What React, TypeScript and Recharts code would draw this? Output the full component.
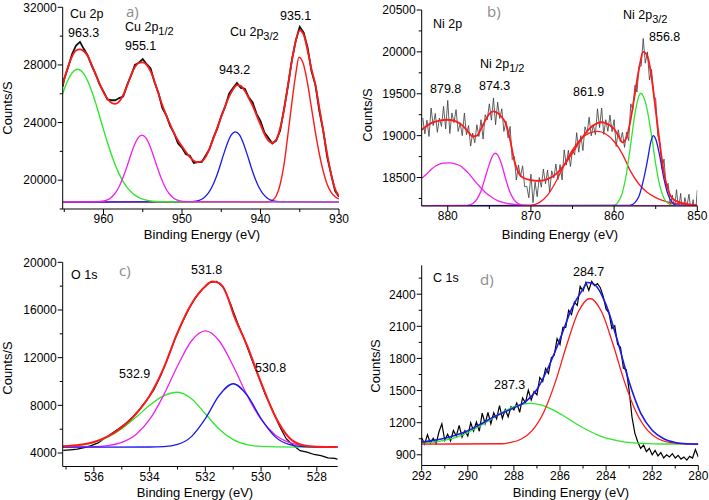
import React from "react";
import { LineChart, Line, XAxis, YAxis } from "recharts";

type P = [number, number];

// ---------- a) Cu 2p ----------
const aXTicks = [930, 935, 940, 945, 950, 955, 960, 965];
const aXMajor = [930, 940, 950, 960];
const aYTicks = [18000, 20000, 22000, 24000, 26000, 28000, 30000, 32000];
const aYMajor = [20000, 24000, 28000, 32000];

const aRaw: P[] = [
  [965.2, 26500], [965, 27050], [964.5, 27850], [964, 28750], [963.5, 29350], [963, 29600],
  [962.5, 29100], [962, 28650], [961.5, 27950], [961, 27350], [960.5, 26650], [960, 26150],
  [959.5, 25600], [959, 25550], [958.5, 25550], [958, 25700], [957.5, 25800], [957, 26600],
  [956.5, 27250], [956, 28000], [955.5, 28150], [955, 28400], [954.5, 28050], [954, 27750],
  [953.5, 26800], [953, 26050], [952.5, 25000], [952, 24500], [951.5, 23750], [951, 23250],
  [950.5, 22550], [950, 22250], [949.5, 21800], [949, 21700], [948.5, 21200], [948, 21250],
  [947.5, 21250], [947, 21700], [946.5, 22150], [946, 22950], [945.5, 23600], [945, 24450],
  [944.5, 25100], [944, 26000], [943.5, 26400], [943, 26750], [942.5, 26400], [942, 26350],
  [941.5, 25750], [941, 25400], [940.5, 24600], [940, 24100], [939.5, 23300], [939, 22950],
  [938.5, 22550], [938, 22750], [937.5, 23450], [937, 24950], [936.5, 26550], [936, 28350],
  [935.5, 29700], [935, 30650], [934.5, 30250], [934, 29200], [933.5, 27550], [933, 26600],
  [932.5, 24800], [932, 23400], [931.5, 21600], [931, 20400], [930.5, 19250], [930, 18850],
];
const aFit: P[] = [
  [965.2, 26600], [965, 27000], [964.5, 27900], [964, 28600], [963.5, 29000], [963, 29080],
  [962.5, 28950], [962, 28600], [961.5, 28000], [961, 27350], [960.5, 26700], [960, 26100],
  [959.5, 25650], [959, 25380], [958.5, 25300], [958, 25450], [957.5, 25900], [957, 26550],
  [956.5, 27300], [956, 27850], [955.5, 28150], [955, 28180], [954.5, 28000], [954, 27550],
  [953.5, 26850], [953, 26000], [952.5, 25200], [952, 24500], [951.5, 23850], [951, 23250],
  [950.5, 22750], [950, 22350], [949.5, 21950], [949, 21600], [948.5, 21350], [948, 21250],
  [947.5, 21300], [947, 21600], [946.5, 22200], [946, 22900], [945.5, 23650], [945, 24400],
  [944.5, 25150], [944, 25800], [943.5, 26300], [943, 26600], [942.5, 26550], [942, 26200],
  [941.5, 25700], [941, 25150], [940.5, 24500], [940, 23850], [939.5, 23200], [939, 22750],
  [938.5, 22600], [938, 22800], [937.5, 23600], [937, 24900], [936.5, 26600], [936, 28300],
  [935.5, 29700], [935, 30400], [934.5, 30100], [934, 29000], [933.5, 27700], [933, 26600],
  [932.5, 25000], [932, 23400], [931.5, 21800], [931, 20400], [930.5, 19400], [930, 18900],
];
const aGreen: P[] = [
  [965.2, 26020], [964.6, 26870], [964, 27450], [963.3, 27700], [962.6, 27450], [962, 26870],
  [961.5, 26180], [961, 25350], [960.5, 24440], [960, 23510], [959.5, 22610], [959, 21780],
  [958.5, 21040], [958, 20420], [957.5, 19900], [957, 19500], [956.5, 19190], [956, 18960],
  [955.5, 18790], [955, 18680], [954, 18555], [953, 18505], [930, 18480],
];
const aMagenta: P[] = [
  [965.2, 18480], [960.6, 18505], [960.1, 18540], [959.6, 18620], [959.1, 18770], [958.6, 19040],
  [958.1, 19460], [957.6, 20060], [957.1, 20805], [956.6, 21630], [956.1, 22390], [955.6, 22935],
  [955.1, 23130], [954.6, 22935], [954.1, 22390], [953.6, 21630], [953.1, 20805], [952.6, 20060],
  [952.1, 19460], [951.6, 19040], [951.1, 18770], [950.6, 18620], [950.1, 18540], [949.6, 18505],
  [930, 18480],
];
const aBlue: P[] = [
  [965.2, 18480], [948.7, 18510], [948.2, 18543], [947.7, 18626], [947.2, 18787], [946.7, 19066],
  [946.2, 19510], [945.7, 20135], [945.2, 20920], [944.7, 21790], [944.2, 22585], [943.7, 23155],
  [943.2, 23360], [942.7, 23155], [942.2, 22585], [941.7, 21790], [941.2, 20920], [940.7, 20135],
  [940.2, 19510], [939.7, 19066], [939.2, 18787], [938.7, 18626], [938.2, 18543], [937.7, 18510],
  [930, 18480],
];
const aRed: P[] = [
  [965.2, 18480], [939.5, 18485], [939, 18500], [938.5, 18600], [938, 18900], [937.5, 19700],
  [937, 21100], [936.5, 23200], [936, 25400], [935.5, 27400], [935.1, 28530], [934.5, 28000],
  [934, 26700], [933.5, 25000], [933, 23300], [932.5, 21800], [932, 20600], [931.5, 19700],
  [931, 19150], [930.5, 18850], [930, 18700],
];

// ---------- b) Ni 2p ----------
const bXTicks = [850, 855, 860, 865, 870, 875, 880];
const bXMajor = [850, 860, 870, 880];
const bYTicks = [18250, 18500, 18750, 19000, 19250, 19500, 19750, 20000, 20250, 20500];
const bYMajor = [18500, 19000, 19500, 20000, 20500];

const bRaw: P[] = [
  [883, 19210], [882.75, 19020], [882.5, 19185], [882.25, 18990], [882, 19330], [881.75, 19120],
  [881.5, 19265], [881.25, 19040], [881, 19210], [880.75, 19110], [880.5, 19350], [880.25, 19080],
  [880, 19420], [879.75, 19025], [879.5, 19270], [879.25, 19155], [879, 19310], [878.75, 19050],
  [878.5, 19145], [878.25, 19000], [878, 19270], [877.75, 19010], [877.5, 19120], [877.25, 18875],
  [877, 19030], [876.75, 18915], [876.5, 19130], [876.25, 18990], [876, 19190], [875.75, 18960],
  [875.5, 19250], [875.25, 19190], [875, 19380], [874.75, 19185], [874.5, 19450], [874.25, 19130],
  [874, 19400], [873.75, 19205], [873.5, 19320], [873.25, 19050], [873, 19170], [872.75, 18975],
  [872.5, 19110], [872.25, 18715], [872, 18750], [871.75, 18470], [871.5, 18650], [871.25, 18510],
  [871, 18640], [870.75, 18390], [870.5, 18395], [870.25, 18258], [870, 18540], [869.75, 18200],
  [869.5, 18445], [869.25, 18272], [869, 18500], [868.75, 18385], [868.5, 18600], [868.25, 18425],
  [868, 18590], [867.75, 18325], [867.5, 18580], [867.25, 18495], [867, 18660], [866.75, 18477],
  [866.5, 18655], [866.25, 18472], [866, 18830], [865.75, 18648], [865.5, 18825], [865.25, 18632],
  [865, 18830], [864.75, 18768], [864.5, 19035], [864.25, 18802], [864, 19000], [863.75, 18822],
  [863.5, 19105], [863.25, 19028], [863, 19220], [862.75, 18998], [862.5, 19125], [862.25, 19012],
  [862, 19320], [861.75, 19095], [861.5, 19330], [861.25, 19015], [861, 19190], [860.75, 19052],
  [860.5, 19245], [860.25, 19047], [860, 19190], [859.75, 18870], [859.5, 19070], [859.25, 18930],
  [859, 19040], [858.75, 18860], [858.5, 19040], [858.25, 18940], [858, 19380], [857.75, 19310],
  [857.5, 19600], [857.25, 19520], [857, 19830], [856.75, 19830], [856.5, 20160], [856.25, 19865],
  [856, 20000], [855.75, 19665], [855.5, 19790], [855.25, 19480], [855, 19440], [854.75, 19000],
  [854.5, 18910], [854.25, 18605], [854, 18720], [853.75, 18390], [853.5, 18430], [853.25, 18160],
  [853, 18290], [852.75, 18120], [852.5, 18355], [852.25, 18120], [852, 18310], [851.75, 18025],
  [851.5, 18260], [851.25, 18155], [851, 18300], [850.75, 18087], [850.5, 18235], [850.25, 18022],
  [850, 18350],
];
const bFit: P[] = [
  [883.13, 19070], [882, 19150], [881, 19180], [880, 19190], [879, 19170], [878, 19100],
  [877.5, 19040], [877, 18990], [876.5, 19000], [876, 19080], [875.5, 19180], [875, 19260],
  [874.5, 19290], [874, 19270], [873.5, 19220], [873, 19140], [872.5, 18950], [872, 18700],
  [871.5, 18560], [871, 18500], [870, 18470], [869, 18460], [868, 18480], [867, 18540],
  [866, 18650], [865, 18800], [864, 18950], [863, 19080], [862, 19150], [861.5, 19160],
  [861, 19150], [860, 19080], [859.5, 19000], [859, 18920], [858.5, 18980], [858, 19200],
  [857.5, 19500], [857, 19800], [856.5, 20000], [856, 19950], [855.5, 19700], [855, 19300],
  [854.5, 18900], [854, 18550], [853.5, 18350], [853, 18250], [852, 18200], [851, 18180],
  [850, 18170],
];
const bMag1: P[] = [
  [883.13, 18490], [882.5, 18545], [882, 18595], [881.5, 18635], [881, 18660], [880.5, 18672],
  [879.8, 18675], [879, 18660], [878.5, 18640], [878, 18600], [877.5, 18550], [877, 18490],
  [876.5, 18430], [876, 18375], [875.5, 18325], [875, 18285], [874.5, 18250], [874, 18225],
  [873, 18195], [872, 18178], [871, 18170], [870, 18165], [850, 18165],
];
const bMag2: P[] = [
  [883.13, 18165], [878, 18166], [877.5, 18170], [877, 18190], [876.5, 18240], [876, 18340],
  [875.5, 18500], [875, 18660], [874.6, 18760], [874.3, 18790], [874, 18770], [873.5, 18650],
  [873, 18470], [872.5, 18320], [872, 18230], [871.5, 18185], [871, 18170], [870.5, 18165],
  [850, 18165],
];
const bRed: P[] = [
  [883.13, 18165], [871, 18166], [870, 18170], [869, 18200], [868, 18290], [867, 18450],
  [866, 18650], [865, 18830], [864, 18960], [863, 19030], [862, 19050], [861, 19020],
  [860, 18930], [859, 18780], [858, 18570], [857, 18420], [856, 18320], [855, 18260],
  [854, 18220], [853, 18195], [852, 18185], [851, 18175], [850, 18170],
];
const bGreen: P[] = [
  [883.13, 18165], [860.5, 18166], [860, 18170], [859.5, 18210], [859, 18320], [858.5, 18560],
  [858, 18900], [857.5, 19260], [857, 19480], [856.8, 19506], [856.5, 19470], [856, 19300],
  [855.5, 19000], [855, 18660], [854.5, 18400], [854, 18250], [853.5, 18190], [853, 18170],
  [850, 18165],
];
const bBlue: P[] = [
  [883.13, 18165], [858.5, 18166], [858, 18170], [857.5, 18200], [857, 18280], [856.5, 18460],
  [856, 18700], [855.6, 18920], [855.3, 19000], [855, 18960], [854.5, 18750], [854, 18480],
  [853.5, 18290], [853, 18200], [852.5, 18170], [850, 18165],
];

// ---------- c) O 1s ----------
const cXTicks = [528, 529, 530, 531, 532, 533, 534, 535, 536, 537];
const cXMajor = [528, 530, 532, 534, 536];
const cYTicks = [4000, 6000, 8000, 10000, 12000, 14000, 16000, 18000, 20000];
const cYMajor = [4000, 8000, 12000, 16000, 20000];

const cRaw: P[] = [
  [537.1, 4220], [536.85, 4270], [536.6, 4330], [536.35, 4450], [536.1, 4620], [535.85, 4850],
  [535.6, 5250], [535.35, 5650], [535.1, 6050], [534.85, 6500], [534.6, 7050], [534.35, 7700],
  [534.1, 8450], [533.85, 9300], [533.6, 10500], [533.35, 11950], [533.1, 13500], [532.85, 14850],
  [532.6, 16050], [532.35, 17050], [532.1, 17750], [531.85, 18300], [531.6, 18400], [531.35, 17900],
  [531.1, 16550], [530.85, 14950], [530.6, 13550], [530.35, 11950], [530.1, 10450], [529.85, 8900],
  [529.6, 7650], [529.35, 6300], [529.1, 5200], [528.85, 4650], [528.6, 4200], [528.35, 4080],
  [528.1, 3880], [527.85, 3780], [527.6, 3600], [527.35, 3550], [527.25, 3470],
];
const cFit: P[] = [
  [537.12, 4560], [536.5, 4690], [536, 4930], [535.5, 5400], [535, 6150], [534.5, 7250],
  [534, 8800], [533.5, 11100], [533, 14100], [532.5, 16500], [532, 18000], [531.75, 18380],
  [531.5, 18250], [531.25, 17400], [531, 15700], [530.5, 13000], [530, 9900], [529.5, 7100],
  [529, 5300], [528.5, 4650], [528, 4520], [527.25, 4500],
];
const cGreen: P[] = [
  [537.12, 4545], [537, 4557], [536.5, 4660], [536, 4890], [535.5, 5328], [535, 6036],
  [534.5, 6980], [534, 8000], [533.5, 8795], [533, 9100], [532.5, 8557], [532, 7292],
  [531.5, 5995], [531, 5121], [530.5, 4702], [530, 4551], [529.5, 4510], [527.25, 4500],
];
const cMagenta: P[] = [
  [537.12, 4500], [536, 4530], [535.5, 4620], [535, 4885], [534.5, 5530], [534, 6815],
  [533.5, 8840], [533, 11300], [532.5, 13400], [532, 14240], [531.5, 13400], [531, 11300],
  [530.5, 8840], [530, 6815], [529.5, 5530], [529, 4885], [528.5, 4620], [528, 4530],
  [527.25, 4500],
];
const cBlue: P[] = [
  [537.12, 4500], [534, 4505], [533.5, 4536], [533, 4717], [532.5, 5377], [532, 6884],
  [531.5, 8845], [531, 9810], [530.5, 8845], [530, 6884], [529.5, 5377], [529, 4717],
  [528.5, 4536], [528, 4505], [527.25, 4500],
];

// ---------- d) C 1s ----------
const dXTicks = [280, 281, 282, 283, 284, 285, 286, 287, 288, 289, 290, 291, 292];
const dXMajor = [280, 282, 284, 286, 288, 290, 292];
const dYTicks = [900, 1050, 1200, 1350, 1500, 1650, 1800, 1950, 2100, 2250, 2400, 2550];
const dYMajor = [900, 1200, 1500, 1800, 2100, 2400];

const dRaw: P[] = [
  [292, 1060], [291.875, 1000], [291.75, 1088], [291.625, 1010], [291.5, 1055], [291.375, 1005],
  [291.25, 1115], [291.125, 1190], [291, 1035], [290.875, 1092], [290.75, 1030], [290.625, 1127],
  [290.5, 1075], [290.375, 1175], [290.25, 1065], [290.125, 1125], [290, 1075], [289.875, 1199],
  [289.75, 1122], [289.625, 1206], [289.5, 1120], [289.375, 1290], [289.25, 1190], [289.125, 1295],
  [289, 1190], [288.875, 1292], [288.75, 1235], [288.625, 1360], [288.5, 1240], [288.375, 1322],
  [288.25, 1255], [288.125, 1350], [288, 1320], [287.875, 1384], [287.75, 1297], [287.625, 1431],
  [287.5, 1385], [287.375, 1504], [287.25, 1412], [287.125, 1491], [287, 1460], [286.875, 1622],
  [286.75, 1585], [286.625, 1707], [286.5, 1660], [286.375, 1805], [286.25, 1830], [286.125, 1985],
  [286, 1930], [285.875, 2090], [285.75, 2090], [285.625, 2250], [285.5, 2210], [285.375, 2327],
  [285.25, 2295], [285.125, 2472], [285, 2430], [284.875, 2510], [284.75, 2435], [284.625, 2520],
  [284.5, 2480], [284.375, 2500], [284.25, 2460], [284.125, 2380], [284, 2260], [283.875, 2225],
  [283.75, 2080], [283.625, 2105], [283.5, 1930], [283.375, 1905], [283.25, 1710], [283.125, 1695],
  [283, 1500], [282.875, 1250], [282.75, 1100], [282.625, 1020], [282.5, 960], [282.375, 990],
  [282.25, 930], [282.125, 960], [282, 900], [281.875, 940], [281.75, 890], [281.625, 920],
  [281.5, 870], [281.375, 900], [281.25, 880], [281.125, 910], [281, 870], [280.875, 895],
  [280.75, 860], [280.625, 880], [280.5, 850], [280.375, 885], [280.25, 870], [280.125, 950],
  [280, 880],
];
const dFit: P[] = [
  [292, 1020], [291.5, 1035], [291, 1055], [290.5, 1085], [290, 1125], [289.5, 1180],
  [289, 1240], [288.5, 1290], [288, 1340], [287.5, 1395], [287, 1510], [286.5, 1720],
  [286, 1980], [285.5, 2260], [285, 2450], [284.8, 2510], [284.5, 2490], [284, 2300],
  [283.5, 1960], [283, 1580], [282.5, 1290], [282, 1130], [281.5, 1050], [281, 1015],
  [280.5, 1003], [280, 1000],
];
const dRed: P[] = [
  [292, 1000], [288.5, 1003], [288.2, 1013], [287.7, 1045], [287.2, 1128], [286.7, 1300],
  [286.2, 1581], [285.7, 1932], [285.2, 2238], [284.7, 2360], [284.2, 2238], [283.7, 1932],
  [283.2, 1581], [282.7, 1300], [282.2, 1128], [281.7, 1045], [281.2, 1013], [280.5, 1002],
  [280, 1000],
];
const dGreen: P[] = [
  [292, 1008], [291.3, 1024], [290.8, 1046], [290.3, 1080], [289.8, 1129], [289.3, 1190],
  [288.8, 1258], [288.3, 1320], [287.8, 1364], [287.3, 1380], [286.8, 1364], [286.3, 1320],
  [285.8, 1258], [285.3, 1190], [284.8, 1129], [284.3, 1080], [283.8, 1046], [283.3, 1024],
  [282.8, 1011], [282.3, 1005], [281.5, 1001], [280, 1000],
];

// ---------- drawing ----------
const FONT = '"Liberation Sans", Arial, Helvetica, sans-serif';
const RED = "#ff1a1a";
const GREEN = "#2ee62e";
const MAGENTA = "#f020f0";
const BLUE = "#1a1aee";

type Series = { d: P[]; c: string; w: number; raw?: boolean };

const isMajor = (majors: number[], v: number) => majors.some((m) => Math.abs(m - v) < 1e-6);

function XTick({ x, y, value, majors }: { x: number; y: number; value: number; majors: number[] }) {
  const major = isMajor(majors, value);
  return (
    <g>
      <line x1={x} x2={x} y1={y} y2={y + (major ? 5 : 3)} stroke="#000" strokeWidth={1} />
      {major && (
        <text x={x} y={y + 14} textAnchor="middle" fontSize={12} fill="#000" fontFamily={FONT}>
          {value}
        </text>
      )}
    </g>
  );
}

function YTick({ x, y, value, majors }: { x: number; y: number; value: number; majors: number[] }) {
  const major = isMajor(majors, value);
  return (
    <g>
      <line x1={x - (major ? 5 : 3)} x2={x} y1={y} y2={y} stroke="#000" strokeWidth={1} />
      {major && (
        <text x={x - 6} y={y + 4.3} textAnchor="end" fontSize={12} fill="#000" fontFamily={FONT}>
          {value}
        </text>
      )}
    </g>
  );
}

function Panel(props: {
  left: number;
  top: number;
  width: number;
  height: number;
  plot: [number, number, number, number];
  xDomain: [number, number];
  yDomain: [number, number];
  xTicks: number[];
  xMajor: number[];
  yTicks: number[];
  yMajor: number[];
  series: Series[];
}) {
  const { left, top, width, height, plot } = props;
  const [l, t, r, b] = plot;
  const xh = 20;
  const margin = { top: t - top, right: left + width - r, bottom: top + height - b - xh, left: 0 };
  return (
    <div style={{ position: "absolute", left, top, width, height }}>
      <LineChart width={width} height={height} margin={margin}>
        <XAxis
          type="number"
          dataKey="x"
          domain={props.xDomain}
          reversed
          allowDataOverflow
          ticks={props.xTicks}
          interval={0}
          tickSize={0}
          tickMargin={0}
          tickLine={false}
          height={xh}
          axisLine={{ stroke: "#000", strokeWidth: 1 }}
          tick={(p: any) => <XTick x={p.x} y={p.y} value={p.payload.value} majors={props.xMajor} />}
        />
        <YAxis
          type="number"
          domain={props.yDomain}
          allowDataOverflow
          ticks={props.yTicks}
          interval={0}
          tickSize={0}
          tickMargin={0}
          tickLine={false}
          width={l - left}
          axisLine={{ stroke: "#000", strokeWidth: 1 }}
          tick={(p: any) => <YTick x={p.x} y={p.y} value={p.payload.value} majors={props.yMajor} />}
        />
        {props.series.map((s, i) => (
          <Line
            key={i}
            data={s.d.map(([x, y]) => ({ x, y }))}
            dataKey="y"
            type={s.raw ? "linear" : "monotone"}
            stroke={s.c}
            strokeWidth={s.w}
            dot={false}
            activeDot={false}
            isAnimationActive={false}
          />
        ))}
      </LineChart>
    </div>
  );
}

function Note({ x, y, children, size = 12.5, color = "#000", family = FONT }: any) {
  return (
    <div
      style={{
        position: "absolute",
        left: x,
        top: y,
        transform: "translateY(-50%)",
        fontSize: size,
        lineHeight: 1,
        color,
        fontFamily: family,
        whiteSpace: "nowrap",
      }}
    >
      {children}
    </div>
  );
}

function Sub({ children }: any) {
  return <span style={{ fontSize: "0.88em", position: "relative", top: "0.35em" }}>{children}</span>;
}

function Rot({ x, y, children }: any) {
  return (
    <div
      style={{
        position: "absolute",
        left: x,
        top: y,
        transform: "translate(-50%, -50%) rotate(-90deg)",
        fontSize: 13,
        lineHeight: 1,
        fontFamily: FONT,
        whiteSpace: "nowrap",
        color: "#000",
      }}
    >
      {children}
    </div>
  );
}

function Center({ x, y, children }: any) {
  return (
    <div
      style={{
        position: "absolute",
        left: x,
        top: y,
        transform: "translate(-50%, -50%)",
        fontSize: 13,
        lineHeight: 1,
        fontFamily: FONT,
        whiteSpace: "nowrap",
        color: "#000",
      }}
    >
      {children}
    </div>
  );
}

const LETTER = { size: 15, color: "#8c8c8c", family: '"Open Sans", sans-serif' };

export default function App() {
  return (
    <div
      style={{
        position: "absolute",
        left: 0,
        top: 0,
        width: 709,
        height: 500,
        overflow: "hidden",
        background: "#fff",
        fontFamily: FONT,
      }}
    >
      <Panel
        left={0}
        top={0}
        width={350}
        height={240}
        plot={[62.7, 7.3, 339, 209]}
        xDomain={[930, 965.2]}
        yDomain={[18000, 32000]}
        xTicks={aXTicks}
        xMajor={aXMajor}
        yTicks={aYTicks}
        yMajor={aYMajor}
        series={[
          { d: aRaw, c: "#111", w: 1.8, raw: true },
          { d: aRed, c: RED, w: 1.4 },
          { d: aBlue, c: BLUE, w: 1.3 },
          { d: aGreen, c: GREEN, w: 1.4 },
          { d: aMagenta, c: MAGENTA, w: 1.3 },
          { d: aFit, c: RED, w: 1.8 },
        ]}
      />
      <Panel
        left={355}
        top={0}
        width={354}
        height={240}
        plot={[421.7, 10, 697.3, 206]}
        xDomain={[850, 883.13]}
        yDomain={[18160, 20500]}
        xTicks={bXTicks}
        xMajor={bXMajor}
        yTicks={bYTicks}
        yMajor={bYMajor}
        series={[
          { d: bRaw, c: "#3a3a3a", w: 0.8, raw: true },
          { d: bRed, c: RED, w: 1.3 },
          { d: bGreen, c: GREEN, w: 1.3 },
          { d: bBlue, c: BLUE, w: 1.3 },
          { d: bMag1, c: MAGENTA, w: 1.3 },
          { d: bMag2, c: MAGENTA, w: 1.3 },
          { d: bFit, c: RED, w: 1.8 },
        ]}
      />
      <Panel
        left={0}
        top={245}
        width={350}
        height={255}
        plot={[62.7, 262.3, 337.7, 466.5]}
        xDomain={[527.25, 537.12]}
        yDomain={[2870, 20000]}
        xTicks={cXTicks}
        xMajor={cXMajor}
        yTicks={cYTicks}
        yMajor={cYMajor}
        series={[
          { d: cRaw, c: "#000", w: 1.2, raw: true },
          { d: cGreen, c: GREEN, w: 1.3 },
          { d: cMagenta, c: MAGENTA, w: 1.3 },
          { d: cBlue, c: BLUE, w: 1.3 },
          { d: cFit, c: RED, w: 2 },
        ]}
      />
      <Panel
        left={355}
        top={245}
        width={354}
        height={255}
        plot={[421.7, 265.3, 698.3, 465.5]}
        xDomain={[280, 292]}
        yDomain={[800, 2670]}
        xTicks={dXTicks}
        xMajor={dXMajor}
        yTicks={dYTicks}
        yMajor={dYMajor}
        series={[
          { d: dRaw, c: "#000", w: 1.2, raw: true },
          { d: dGreen, c: GREEN, w: 1.3 },
          { d: dRed, c: RED, w: 1.3 },
          { d: dFit, c: BLUE, w: 1.6 },
        ]}
      />

      {/* a */}
      <Note x={70} y={14}>Cu 2p</Note>
      <Note x={68} y={33}>963.3</Note>
      <Note x={125} y={27}>Cu 2p<Sub>1/2</Sub></Note>
      <Note x={125} y={46}>955.1</Note>
      <Note x={230} y={32}>Cu 2p<Sub>3/2</Sub></Note>
      <Note x={219} y={70}>943.2</Note>
      <Note x={280} y={16}>935.1</Note>
      <Note x={126} y={11} {...LETTER}>a)</Note>
      <Rot x={7} y={108}>Counts/S</Rot>
      <Center x={202} y={234}>Binding Energy (eV)</Center>

      {/* b */}
      <Note x={433} y={24}>Ni 2p</Note>
      <Note x={487} y={11} {...LETTER}>b)</Note>
      <Note x={623} y={15}>Ni 2p<Sub>3/2</Sub></Note>
      <Note x={649} y={37}>856.8</Note>
      <Note x={480} y={64}>Ni 2p<Sub>1/2</Sub></Note>
      <Note x={430} y={89}>879.8</Note>
      <Note x={479} y={86}>874.3</Note>
      <Note x={573} y={92}>861.9</Note>
      <Rot x={367} y={115}>Counts/S</Rot>
      <Center x={560} y={234}>Binding Energy (eV)</Center>

      {/* c */}
      <Note x={71} y={275}>O 1s</Note>
      <Note x={119} y={270} {...LETTER}>c)</Note>
      <Note x={191} y={270}>531.8</Note>
      <Note x={119} y={374}>532.9</Note>
      <Note x={255} y={368}>530.8</Note>
      <Rot x={7} y={368}>Counts/S</Rot>
      <Center x={195} y={492}>Binding Energy (eV)</Center>

      {/* d */}
      <Note x={433} y={278}>C 1s</Note>
      <Note x={480} y={279} {...LETTER}>d)</Note>
      <Note x={573} y={272}>284.7</Note>
      <Note x={494} y={385}>287.3</Note>
      <Rot x={375} y={366}>Counts/S</Rot>
      <Center x={571} y={492}>Binding Energy (eV)</Center>
    </div>
  );
}
